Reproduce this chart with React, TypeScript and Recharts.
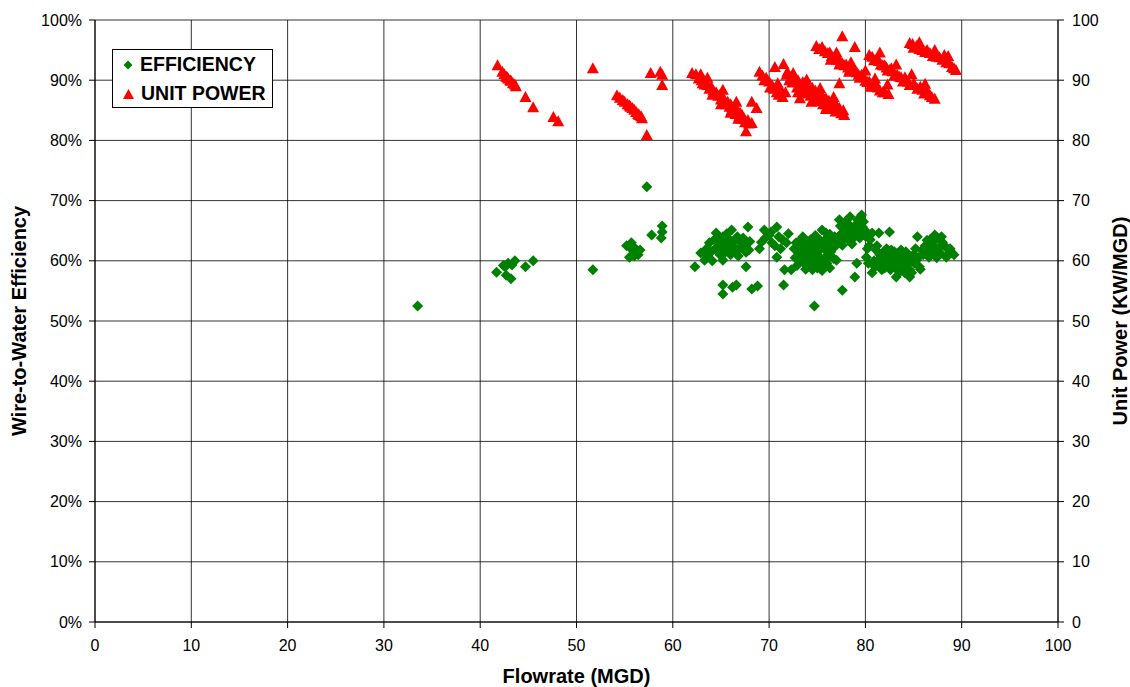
import {
  CartesianGrid,
  Legend,
  Scatter,
  ScatterChart,
  XAxis,
  YAxis,
} from 'recharts'

// [flowrate MGD, wire-to-water efficiency %]
const efficiencyPoints: [number, number][] = [
  [33.5, 52.5], [41.7, 58.1], [42.4, 59.2], [42.6, 59.0], [42.9, 59.6], [43.3, 59.3],
  [43.6, 60.0], [42.7, 57.6], [43.2, 57.0], [44.7, 59.0], [45.5, 60.0], [51.7, 58.5],
  [55.2, 62.5], [55.5, 60.6], [55.7, 63.0], [55.8, 61.8], [56.0, 62.2], [56.2, 61.5],
  [56.4, 61.0], [56.6, 61.8], [56.0, 60.8], [57.3, 72.3], [57.8, 64.3], [58.8, 63.8],
  [58.9, 64.8], [58.9, 65.8], [62.3, 59.0], [62.9, 61.3], [63.3, 60.1], [64.1, 60.0],
  [64.3, 63.5], [64.5, 64.6], [64.8, 62.5], [65.1, 61.8], [65.2, 64.0], [65.2, 60.1],
  [65.5, 63.0], [65.8, 62.0], [66.1, 65.1], [66.2, 63.1], [66.5, 61.5], [67.1, 63.0],
  [67.5, 62.5], [67.8, 65.6], [67.9, 61.8], [67.6, 59.0], [65.2, 56.0], [65.2, 54.5],
  [66.2, 55.6], [66.6, 56.0], [68.2, 55.3], [68.8, 55.8], [69.2, 63.1], [69.5, 65.1],
  [70.0, 64.3], [70.3, 63.0], [70.8, 65.6], [70.8, 60.6], [71.0, 64.0], [71.4, 63.5],
  [71.6, 58.5], [72.3, 58.5], [71.5, 56.0], [72.8, 63.0], [73.0, 61.5], [73.2, 60.0],
  [73.5, 64.0], [73.6, 62.5], [73.9, 61.8], [74.0, 59.0], [74.2, 59.6], [74.3, 63.5],
  [74.5, 58.5], [74.6, 61.0], [74.9, 63.0], [75.0, 60.0], [75.2, 60.6], [75.3, 62.3],
  [75.5, 65.1], [75.6, 59.2], [75.9, 61.8], [76.0, 63.8], [76.2, 60.8], [76.5, 63.1],
  [76.6, 62.0], [76.8, 64.0], [77.0, 60.1], [77.1, 62.8], [74.7, 52.5], [77.6, 55.1],
  [77.3, 66.8], [77.5, 64.5], [77.8, 65.5], [78.0, 65.1], [78.2, 63.5], [78.4, 67.3],
  [78.6, 64.8], [78.9, 64.0], [79.0, 66.0], [79.3, 65.0], [79.6, 67.6], [79.7, 65.6],
  [79.9, 64.2], [79.1, 59.6], [78.9, 57.3], [80.1, 60.6], [80.4, 62.5], [80.7, 64.6],
  [80.7, 58.0], [81.1, 61.8], [81.4, 64.6], [81.3, 59.5], [81.6, 60.5], [81.8, 61.3],
  [82.0, 58.8], [82.2, 62.0], [82.5, 64.8], [82.5, 60.1], [82.8, 59.5], [83.0, 61.5],
  [83.2, 59.0], [83.2, 57.3], [83.5, 60.5], [83.9, 61.3], [84.0, 59.0], [84.3, 60.0],
  [84.6, 58.5], [84.6, 57.3], [85.0, 61.0], [85.3, 60.1], [85.4, 64.0], [85.6, 59.0],
  [85.9, 61.8], [86.2, 62.5], [86.7, 63.5], [87.0, 61.5], [87.2, 64.3], [87.4, 60.5],
  [87.7, 62.3], [88.0, 63.1], [88.4, 60.6], [88.5, 62.0], [89.0, 61.3],
  // denser cores of the clusters
  [63.5, 62.0], [63.8, 63.0], [64.0, 61.5], [64.6, 63.8], [64.9, 61.0], [65.0, 63.3],
  [65.4, 62.2], [65.6, 64.5], [65.9, 63.5], [66.0, 61.0], [66.3, 62.4], [66.7, 64.0],
  [66.9, 62.0], [67.3, 63.8], [67.6, 61.4], [68.0, 63.2], [63.6, 60.8], [64.4, 62.0],
  [65.3, 61.2], [66.8, 60.8], [69.0, 62.0], [69.6, 63.8], [70.2, 64.8], [70.6, 62.5],
  [71.2, 62.0], [71.8, 63.0], [72.0, 64.5], [72.6, 62.0], [72.7, 60.5], [72.9, 59.2],
  [73.1, 63.2], [73.3, 62.0], [73.4, 60.8], [73.7, 59.5], [73.8, 58.6], [73.9, 63.2],
  [74.1, 62.2], [74.3, 60.5], [74.4, 61.8], [74.6, 59.8], [74.7, 62.6], [74.8, 64.2],
  [75.0, 58.8], [75.1, 61.5], [75.3, 63.4], [75.4, 60.2], [75.5, 58.4], [75.7, 62.6],
  [75.8, 60.6], [76.0, 59.6], [76.1, 62.2], [76.3, 64.4], [76.4, 61.5], [76.7, 60.4],
  [76.9, 63.0], [76.3, 58.8], [74.0, 60.6], [73.5, 61.2], [75.9, 64.6], [77.2, 64.0],
  [77.4, 65.8], [77.7, 63.6], [77.9, 66.5], [78.1, 64.4], [78.3, 66.0], [78.5, 63.8],
  [78.8, 65.5], [79.1, 64.4], [79.2, 66.8], [79.4, 63.8], [79.5, 65.8], [79.8, 66.5],
  [80.0, 65.0], [78.6, 62.8], [77.6, 62.6], [80.2, 62.0], [80.3, 59.6], [80.5, 63.5],
  [80.9, 60.0], [81.0, 59.0], [81.2, 62.5], [81.5, 61.0], [81.7, 58.5], [81.9, 60.0],
  [82.1, 61.5], [82.3, 59.2], [82.4, 60.8], [82.6, 58.5], [82.7, 61.8], [82.9, 60.4],
  [83.1, 58.8], [83.3, 61.2], [83.4, 59.8], [83.6, 58.2], [83.7, 61.8], [83.9, 60.2],
  [84.1, 58.0], [84.2, 61.5], [84.4, 59.4], [84.7, 60.6], [84.8, 58.0], [85.1, 59.6],
  [85.2, 62.0], [85.5, 60.6], [85.7, 58.6], [82.0, 60.2], [81.4, 60.2], [86.0, 61.0],
  [86.4, 63.4], [86.5, 61.6], [86.8, 62.6], [87.1, 63.2], [87.3, 62.0], [87.5, 63.8],
  [87.8, 61.2], [87.9, 64.0], [88.2, 62.5], [88.6, 61.0], [88.8, 62.0], [89.2, 61.0],
  [86.6, 60.6],
]

// [flowrate MGD, unit power KW/MGD]
const unitPowerPoints: [number, number][] = [
  [41.8, 92.5], [42.5, 91.0], [42.7, 90.6], [42.9, 90.3], [43.1, 90.0], [43.4, 89.5],
  [43.7, 89.0], [44.7, 87.2], [45.5, 85.5], [47.6, 83.9], [48.1, 83.2], [51.7, 92.0],
  [54.2, 87.5], [54.8, 86.7], [55.3, 86.0], [55.6, 85.6], [55.8, 85.4], [56.2, 84.7],
  [56.5, 84.2], [56.8, 83.7], [57.3, 80.9], [57.7, 91.2], [58.7, 91.4], [58.9, 90.9],
  [58.9, 89.2], [62.0, 91.2], [62.9, 91.0], [63.1, 89.5], [63.6, 89.2], [64.0, 88.9],
  [64.5, 88.0], [64.9, 87.6], [65.2, 87.2], [65.7, 86.4], [66.0, 86.0], [66.2, 85.5],
  [66.7, 85.0], [67.0, 84.6], [67.2, 84.2], [67.8, 83.4], [68.2, 82.9], [67.6, 81.5],
  [68.2, 86.4], [68.7, 85.4], [69.0, 91.4], [69.7, 90.4], [70.3, 89.2], [70.8, 88.0],
  [71.4, 87.2], [70.6, 92.2], [71.5, 92.7], [71.8, 90.9], [72.3, 90.6], [72.6, 90.5],
  [73.0, 90.0], [73.2, 87.0], [73.5, 89.7], [74.0, 89.2], [74.5, 88.7], [74.8, 88.3],
  [75.2, 87.9], [75.5, 87.5], [75.9, 87.0], [76.2, 86.6], [76.6, 86.2], [77.0, 85.8],
  [77.3, 85.4], [77.8, 84.2], [74.9, 95.7], [75.5, 95.5], [76.1, 94.5], [76.5, 94.0],
  [77.0, 93.4], [77.4, 93.0], [77.8, 92.5], [78.2, 92.1], [78.7, 91.7], [79.1, 91.3],
  [79.6, 90.9], [80.2, 89.7], [80.6, 89.3], [81.1, 88.9], [81.8, 88.0], [82.4, 87.7],
  [77.6, 97.3], [78.9, 95.5], [77.3, 89.5], [80.4, 94.2], [81.1, 93.4], [81.8, 92.5],
  [82.2, 92.1], [82.5, 91.7], [83.3, 90.9], [83.7, 90.5], [84.2, 90.0], [85.1, 89.2],
  [85.9, 88.4], [86.3, 87.9], [86.7, 87.5], [87.2, 86.9], [84.6, 96.2], [85.3, 95.7],
  [85.9, 95.0], [86.7, 94.5], [87.4, 93.9], [88.2, 94.2], [88.4, 93.0], [89.0, 92.2],
  [89.4, 91.7],
  // denser bands
  [42.3, 91.4], [42.8, 90.5], [43.2, 89.9], [43.6, 89.3], [54.5, 87.1], [55.0, 86.4],
  [55.5, 85.8], [56.0, 85.1], [56.4, 84.4], [56.7, 84.0], [62.4, 91.0], [62.7, 90.3],
  [63.0, 90.0], [63.3, 89.3], [63.8, 88.6], [64.2, 88.3], [64.3, 87.8], [64.7, 87.4],
  [65.0, 86.8], [65.4, 86.6], [65.5, 86.0], [65.9, 85.6], [66.1, 85.0], [66.4, 85.0],
  [66.5, 84.4], [66.9, 84.0], [67.1, 83.6], [67.4, 83.6], [67.5, 83.0], [67.9, 82.8],
  [64.1, 87.6], [65.0, 86.0], [66.0, 84.6], [66.8, 83.6], [69.3, 90.8], [69.5, 90.0],
  [70.0, 89.8], [70.1, 88.8], [70.5, 88.6], [71.0, 87.6], [71.2, 88.5], [70.9, 89.5],
  [71.9, 91.4], [72.1, 90.0], [72.4, 89.6], [72.8, 89.8], [72.9, 88.8], [73.3, 89.2],
  [73.4, 88.3], [73.7, 88.8], [73.8, 87.8], [74.2, 88.2], [74.3, 87.4], [74.6, 87.8],
  [74.7, 86.9], [75.0, 87.3], [75.1, 86.5], [75.4, 86.8], [75.6, 86.0], [75.8, 86.4],
  [76.0, 85.6], [76.3, 85.8], [76.5, 85.2], [76.8, 85.4], [76.9, 84.8], [77.2, 84.9],
  [77.5, 84.5], [77.7, 85.0], [75.2, 95.2], [75.8, 94.8], [76.3, 94.6], [76.8, 93.8],
  [77.2, 93.6], [77.6, 92.8], [78.0, 92.6], [78.4, 91.8], [78.9, 91.6], [79.3, 90.9],
  [79.8, 90.6], [80.0, 89.9], [80.4, 89.8], [80.8, 89.0], [81.3, 88.8], [81.5, 88.3],
  [82.0, 88.0], [76.4, 93.4], [77.3, 92.6], [78.3, 91.4], [79.4, 90.4], [80.6, 88.9],
  [80.7, 93.9], [80.9, 93.3], [81.4, 93.2], [81.6, 92.6], [82.0, 92.5], [82.3, 91.6],
  [82.8, 91.5], [83.0, 90.8], [83.5, 90.6], [83.9, 89.8], [84.4, 89.8], [84.6, 89.2],
  [85.0, 89.5], [85.4, 88.6], [85.7, 88.9], [86.1, 87.8], [86.5, 88.0], [86.9, 87.2],
  [84.1, 90.5], [82.7, 92.0], [84.9, 96.0], [85.0, 95.4], [85.6, 95.2], [86.2, 94.7],
  [86.4, 95.0], [87.0, 94.0], [87.7, 93.8], [88.0, 93.4], [88.7, 92.8], [89.2, 92.0],
  [72.5, 91.2], [73.9, 90.1], [75.3, 88.7], [76.7, 87.2], [71.7, 88.0], [73.0, 88.0],
  [74.4, 86.4], [75.9, 85.2], [77.0, 94.6], [78.5, 93.0], [80.0, 91.6], [81.0, 90.3],
  [82.3, 89.3], [81.5, 94.6], [83.2, 92.6], [84.8, 91.0], [86.2, 89.4], [85.6, 96.3],
  [87.2, 95.0], [88.6, 94.0], [63.6, 90.4], [65.2, 88.4], [66.6, 86.4],
]

const xTicks = [0, 10, 20, 30, 40, 50, 60, 70, 80, 90, 100]
const yTicks = [0, 10, 20, 30, 40, 50, 60, 70, 80, 90, 100]

const GREEN = '#008000'
const RED = '#ff0000'
const FONT = '"Liberation Sans", Arial, sans-serif'

const efficiencyData = efficiencyPoints.map(([flow, value]) => ({ flow, value }))
const unitPowerData = unitPowerPoints.map(([flow, value]) => ({ flow, value }))

function Diamond({ cx, cy, fill }: any) {
  const r = 5.5
  return <polygon points={`${cx},${cy - r} ${cx + r},${cy} ${cx},${cy + r} ${cx - r},${cy}`} fill={fill} />
}

function Triangle({ cx, cy, fill }: any) {
  return <polygon points={`${cx},${cy - 6} ${cx + 6},${cy + 5} ${cx - 6},${cy + 5}`} fill={fill} />
}

function LegendBox() {
  const row = { display: 'flex', alignItems: 'center', height: 29 }
  const text = { fontFamily: FONT, fontWeight: 700, fontSize: 19.5, color: '#000', marginLeft: 7, lineHeight: '29px' }
  return (
    <div style={{ border: '1px solid #000', background: '#fff', width: 161, height: 59, padding: '0 0 0 10px', boxSizing: 'border-box' }}>
      <div style={row}>
        <svg width={10} height={10}><polygon points="5,0.5 9.5,5 5,9.5 0.5,5" fill={GREEN} /></svg>
        <span style={text}>EFFICIENCY</span>
      </div>
      <div style={row}>
        <svg width={11} height={10}><polygon points="5.5,0 11,10 0,10" fill={RED} /></svg>
        <span style={text}>UNIT POWER</span>
      </div>
    </div>
  )
}

export default function App() {
  const tick = { fill: '#000', fontSize: 16, fontFamily: FONT }
  const title = { fill: '#000', fontSize: 20, fontWeight: 700, fontFamily: FONT, textAnchor: 'middle' as const }
  return (
    <div style={{ position: 'absolute', left: 0, top: 0, background: '#fff' }}>
      <ScatterChart width={1130} height={687} margin={{ top: 20, right: 10, bottom: 5, left: 10 }}>
        <CartesianGrid stroke="#000" strokeOpacity={0.8} yAxisId="left" />
        <XAxis
          dataKey="flow"
          type="number"
          domain={[0, 100]}
          ticks={xTicks}
          height={60}
          tickSize={6}
          tickMargin={12}
          stroke="#000"
          tick={tick}
          label={{ value: 'Flowrate (MGD)', position: 'insideBottom', offset: -1, style: title }}
        />
        <YAxis
          yAxisId="left"
          dataKey="value"
          type="number"
          domain={[0, 100]}
          ticks={yTicks}
          width={85}
          tickSize={6}
          tickMargin={7}
          stroke="#000"
          tick={tick}
          tickFormatter={(v) => `${v}%`}
          label={{ value: 'Wire-to-Water Efficiency', angle: -90, position: 'insideLeft', offset: 9, style: title }}
        />
        <YAxis
          yAxisId="right"
          orientation="right"
          dataKey="value"
          type="number"
          domain={[0, 100]}
          ticks={yTicks}
          width={62}
          tickSize={6}
          tickMargin={8}
          stroke="#000"
          tick={tick}
          label={{ value: 'Unit Power (KW/MGD)', angle: -90, position: 'insideRight', offset: 0, style: title }}
        />
        <Legend
          layout="vertical"
          verticalAlign="middle"
          align="center"
          content={() => <LegendBox />}
          wrapperStyle={{ position: 'absolute', left: 112, top: 49, width: 161, height: 59 }}
        />
        <Scatter
          name="EFFICIENCY"
          data={efficiencyData}
          yAxisId="left"
          fill={GREEN}
          shape={Diamond}
          isAnimationActive={false}
        />
        <Scatter
          name="UNIT POWER"
          data={unitPowerData}
          yAxisId="right"
          fill={RED}
          shape={Triangle}
          isAnimationActive={false}
        />
      </ScatterChart>
    </div>
  )
}
